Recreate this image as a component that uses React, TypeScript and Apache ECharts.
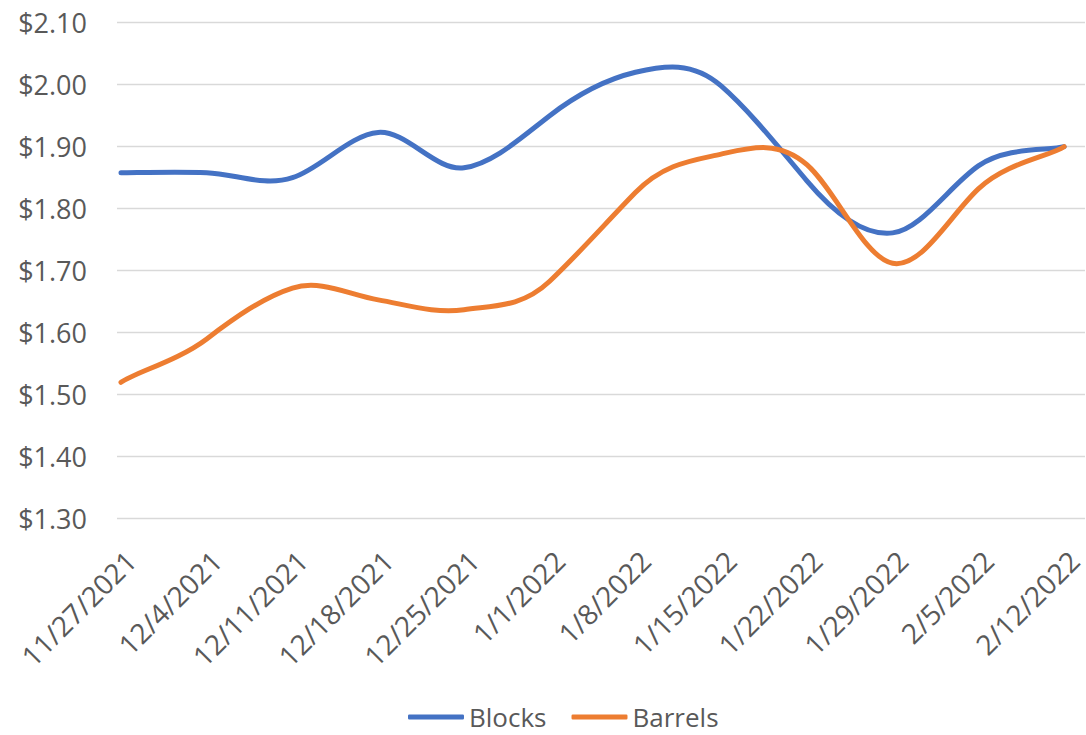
import React, { useEffect, useRef } from "react";
import * as echarts from "echarts";

const categories = [
  "11/27/2021", "12/4/2021", "12/11/2021", "12/18/2021", "12/25/2021", "1/1/2022",
  "1/8/2022", "1/15/2022", "1/22/2022", "1/29/2022", "2/5/2022", "2/12/2022",
];
const blocks = [1.858, 1.858, 1.85, 1.923, 1.866, 1.95, 2.02, 1.998, 1.845, 1.761, 1.869, 1.9];
const barrels = [1.52, 1.59, 1.672, 1.653, 1.637, 1.683, 1.826, 1.888, 1.871, 1.712, 1.832, 1.9];
const yMin = 1.3;
const yMax = 2.1;
const yStep = 0.1;

const FONT = "Open Sans";
const TEXT = "#595959";
const SMOOTH_X = 1 / 6;
const SMOOTH_Y = 0.23;

function smoothPath(values: number[], api: any): string {
  const pts = values.map((v, i) => api.coord([i, v]) as number[]);
  let d = `M${pts[0][0]},${pts[0][1]}`;
  for (let i = 0; i < pts.length - 1; i++) {
    const p0 = pts[i - 1] || pts[i];
    const p1 = pts[i];
    const p2 = pts[i + 1];
    const p3 = pts[i + 2] || pts[i + 1];
    const c1x = p1[0] + (p2[0] - p0[0]) * SMOOTH_X;
    const c1y = p1[1] + (p2[1] - p0[1]) * SMOOTH_Y;
    const c2x = p2[0] - (p3[0] - p1[0]) * SMOOTH_X;
    const c2y = p2[1] - (p3[1] - p1[1]) * SMOOTH_Y;
    d += ` C${c1x},${c1y} ${c2x},${c2y} ${p2[0]},${p2[1]}`;
  }
  return d;
}

function lineSeries(name: string, values: number[], color: string) {
  return {
    name,
    type: "custom",
    xAxisIndex: 1,
    yAxisIndex: 1,
    data: [[0, values[0]]],
    itemStyle: { color },
    renderItem: (_params: any, api: any) => ({
      type: "path",
      shape: { pathData: smoothPath(values, api) },
      style: {
        fill: "none",
        stroke: color,
        lineWidth: 5,
        lineCap: "round",
        lineJoin: "round",
      },
    }),
  };
}

export default function App() {
  const ref = useRef<HTMLDivElement>(null);
  useEffect(() => {
    document.body.style.margin = "0";
    const chart = echarts.init(ref.current!, undefined, { renderer: "svg" });
    const top = 22.7;
    const bottom = 735 - 518.7;
    chart.setOption({
      animation: false,
      textStyle: { fontFamily: FONT },
      grid: [
        { left: 117, right: 1, top, bottom },
        { left: 121, right: 9, top, bottom },
      ],
      xAxis: [
        { gridIndex: 0, type: "category", data: categories, show: false },
        {
          gridIndex: 1,
          type: "category",
          data: categories,
          boundaryGap: false,
          axisLine: { show: false },
          axisTick: { show: false },
          splitLine: { show: false },
          axisLabel: {
            rotate: 45,
            interval: 0,
            margin: 27,
            verticalAlign: "top",
            color: TEXT,
            fontSize: 28,
            fontFamily: FONT,
          },
        },
      ],
      yAxis: [
        {
          gridIndex: 0,
          type: "value",
          min: yMin,
          max: yMax,
          interval: yStep,
          axisLine: { show: false },
          axisTick: { show: false },
          axisLabel: {
            margin: 30,
            color: TEXT,
            fontSize: 27,
            fontFamily: FONT,
            formatter: (v: number) => "$" + v.toFixed(2),
          },
          splitLine: { lineStyle: { color: "#D9D9D9", width: 1.3 } },
        },
        {
          gridIndex: 1,
          type: "value",
          min: yMin,
          max: yMax,
          interval: yStep,
          show: false,
          splitLine: { show: false },
        },
      ],
      legend: {
        left: 403,
        top: 699,
        itemWidth: 56,
        itemHeight: 5,
        itemGap: 25,
        icon: "roundRect",
        textStyle: { color: TEXT, fontSize: 26, fontFamily: FONT },
        data: ["Blocks", "Barrels"],
      },
      series: [
        lineSeries("Blocks", blocks, "#4472C4"),
        lineSeries("Barrels", barrels, "#ED7D31"),
      ],
    });
    return () => chart.dispose();
  }, []);
  return (
    <div
      ref={ref}
      style={{ position: "absolute", left: 0, top: 0, width: 1086, height: 735, background: "#fff" }}
    />
  );
}
